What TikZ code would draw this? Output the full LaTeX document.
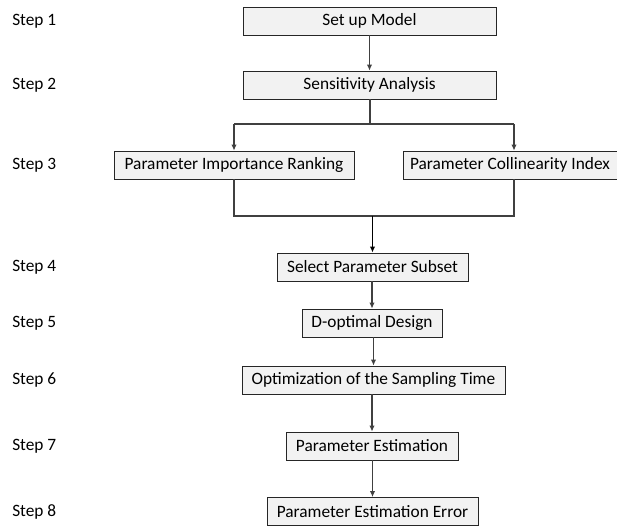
\documentclass[tikz,border=0pt]{standalone}
\usepackage{fontspec}
\setmainfont{Carlito}
\usetikzlibrary{arrows.meta}

\begin{document}
\begin{tikzpicture}[
x=0.75pt, y=-0.75pt,
stage/.style={
	draw=black!85, fill=black!5, line width=0.6pt,
	minimum height=21pt, inner sep=0pt,
	font=\fontsize{13}{15}\selectfont
},
steplabel/.style={anchor=west, inner sep=0pt, font=\fontsize{13}{15}\selectfont},
wire/.style={draw=black!75, line width=0.8pt},
link/.style={wire, -{Latex[length=4.5pt,width=4pt]}}
]
\useasboundingbox (0,0) rectangle (617,527);

% boxes of the procedure
\node[stage, minimum width=189.75pt] (setup) at (369.5,21) {Set up Model};
\node[stage, minimum width=189.75pt] (sens) at (369.5,85) {Sensitivity Analysis};
\node[stage, minimum width=180pt] (rank) at (234,165) {Parameter Importance Ranking};
\node[stage, minimum width=160.5pt] (coll) at (510,165) {Parameter Collinearity Index};
\node[stage, minimum width=143.25pt] (subset) at (372.5,267) {Select Parameter Subset};
\node[stage, minimum width=105pt] (dopt) at (372,323) {D-optimal Design};
\node[stage, minimum width=197.25pt] (samp) at (373.5,380) {Optimization of the Sampling Time};
\node[stage, minimum width=129pt] (est) at (372,446) {Parameter Estimation};
\node[stage, minimum width=158.25pt] (err) at (372.5,511.5) {Parameter Estimation Error};

% step labels on the left
\foreach \n/\y in {1/21,2/85,3/165,4/267,5/323,6/380,7/446,8/511.5}
	\node[steplabel] (step\n) at (12,\y) {Step \n};

% fork after the sensitivity analysis
\coordinate (fork) at (370,124);
\coordinate (forkL) at (234,124);
\coordinate (forkR) at (514,124);
\draw[wire] (sens.south -| fork) -- (fork);
\draw[wire] (forkL) -- (forkR);
\draw[link] (forkL) -- (rank.north);
\draw[link] (forkR) -- (forkR |- coll.north);

% join into the subset selection
\coordinate (joinL) at (234,216);
\coordinate (joinR) at (514,216);
\draw[wire] (rank.south) -- (joinL) -- (joinR) -- (joinR |- coll.south);
\draw[link, draw=black, line width=1.1pt] (joinL -| subset.north) -- (subset.north);

% straight steps
\foreach \a/\b in {setup/sens,subset/dopt,dopt/samp,samp/est,est/err}
	\draw[link] (\a.south -| \b.north) -- (\b.north);
\end{tikzpicture}
\end{document}
